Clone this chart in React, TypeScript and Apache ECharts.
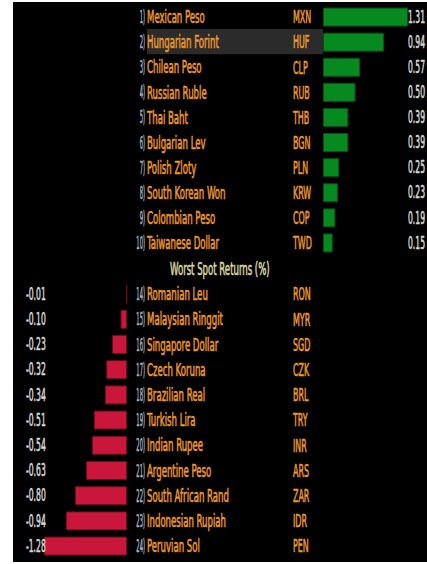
import React, { useEffect, useRef } from "react";
import * as echarts from "echarts";

// ---- data ----
const topRanks = ["1)", "2)", "3)", "4)", "5)", "6)", "7)", "8)", "9)", "10)"];
const topNames = [
  "Mexican Peso",
  "Hungarian Forint",
  "Chilean Peso",
  "Russian Ruble",
  "Thai Baht",
  "Bulgarian Lev",
  "Polish Zloty",
  "South Korean Won",
  "Colombian Peso",
  "Taiwanese Dollar",
];
const topCodes = ["MXN", "HUF", "CLP", "RUB", "THB", "BGN", "PLN", "KRW", "COP", "TWD"];
const topValues = [1.31, 0.94, 0.57, 0.5, 0.39, 0.39, 0.25, 0.23, 0.19, 0.15];
const highlightedRow = 1;

const sectionTitle = "Worst Spot Returns (%)";

const bottomRanks = ["14)", "15)", "16)", "17)", "18)", "19)", "20)", "21)", "22)", "23)", "24)"];
const bottomNames = [
  "Romanian Leu",
  "Malaysian Ringgit",
  "Singapore Dollar",
  "Czech Koruna",
  "Brazilian Real",
  "Turkish Lira",
  "Indian Rupee",
  "Argentine Peso",
  "South African Rand",
  "Indonesian Rupiah",
  "Peruvian Sol",
];
const bottomCodes = ["RON", "MYR", "SGD", "CZK", "BRL", "TRY", "INR", "ARS", "ZAR", "IDR", "PEN"];
const bottomValues = [-0.01, -0.1, -0.23, -0.32, -0.34, -0.51, -0.54, -0.63, -0.8, -0.94, -1.28];

// ---- style ----
const FONT_FAMILY = '"DejaVu Sans Condensed","Liberation Sans",sans-serif';
const FONT_SIZE = 17;
const NAME_SX = 0.56;
const CODE_SX = 0.52;
const VALUE_SX = 0.5;
const RANK_SX = 0.34;
const RANK_COLOR = "#a9b0bb";
const NAME_COLOR = "#ec9a2c";
const VALUE_COLOR = "#d6d6d6";
const TITLE_COLOR = "#ddd6a2";

function txt(text: string, x: number, y: number, fill: string, align: string, sx: number) {
  return {
    type: "text",
    x,
    y,
    scaleX: sx,
    style: {
      text,
      fill,
      stroke: fill,
      lineWidth: 0.6,
      fontFamily: FONT_FAMILY,
      fontSize: FONT_SIZE,
      align,
      verticalAlign: "middle",
    },
  };
}

export default function App() {
  const ref = useRef<HTMLDivElement>(null);

  useEffect(() => {
    if (!ref.current) return;
    const chart = echarts.init(ref.current, undefined, { renderer: "svg" });

    const option: any = {
      animation: false,
      backgroundColor: "#ffffff",
      graphic: [
        {
          type: "rect",
          z: -10,
          shape: { x: 13, y: 2, width: 414, height: 560 },
          style: { fill: "#000000" },
        },
        {
          type: "text",
          x: 170,
          y: 269,
          scaleX: NAME_SX,
          z: 5,
          style: {
            text: sectionTitle,
            fill: TITLE_COLOR,
            stroke: TITLE_COLOR,
            lineWidth: 0.6,
            fontFamily: FONT_FAMILY,
            fontSize: FONT_SIZE,
            align: "left",
            verticalAlign: "middle",
          },
        },
      ],
      grid: [
        { left: 323, top: 4.5, width: 97.5, height: 251 },
        { left: 29.5, top: 281.5, width: 97.5, height: 277.2 },
      ],
      xAxis: [
        { type: "value", gridIndex: 0, min: 0, max: 1.5, show: false },
        { type: "value", gridIndex: 1, min: -1.5, max: 0, show: false },
      ],
      yAxis: [
        { type: "category", gridIndex: 0, data: topCodes, inverse: true, show: false },
        { type: "category", gridIndex: 1, data: bottomCodes, inverse: true, show: false },
      ],
      series: [
        {
          type: "bar",
          xAxisIndex: 0,
          yAxisIndex: 0,
          data: topValues,
          barWidth: 19,
          itemStyle: { color: "#06891f", borderColor: "#0a4f14", borderWidth: 1 },
          silent: true,
        },
        {
          type: "bar",
          xAxisIndex: 1,
          yAxisIndex: 1,
          data: bottomValues,
          barWidth: 19,
          itemStyle: { color: "#c8173b", borderColor: "#6e0c1c", borderWidth: 1 },
          silent: true,
        },
        {
          type: "custom",
          xAxisIndex: 0,
          yAxisIndex: 0,
          clip: false,
          silent: true,
          z: 3,
          data: topCodes.map((_, i) => [0, i]),
          renderItem: (params: any, api: any) => {
            const i = api.value(1);
            const y = api.coord([0, i])[1];
            const band = api.size([0, 1])[1];
            const children: any[] = [];
            if (i === highlightedRow) {
              children.push({
                type: "rect",
                shape: { x: 147, y: y - band / 2 - 0.5, width: 176, height: band },
                style: { fill: "#2b2b2b" },
              });
            }
            children.push(txt(topRanks[i], 145, y, RANK_COLOR, "right", RANK_SX));
            children.push(txt(topNames[i], 147, y, NAME_COLOR, "left", NAME_SX));
            children.push(txt(topCodes[i], 293, y, NAME_COLOR, "left", CODE_SX));
            children.push(txt(topValues[i].toFixed(2), 425, y, VALUE_COLOR, "right", VALUE_SX));
            return { type: "group", children };
          },
        },
        {
          type: "custom",
          xAxisIndex: 1,
          yAxisIndex: 1,
          clip: false,
          silent: true,
          z: 3,
          data: bottomCodes.map((_, i) => [0, i]),
          renderItem: (params: any, api: any) => {
            const i = api.value(1);
            const y = api.coord([0, i])[1];
            const children: any[] = [];
            children.push(txt(bottomValues[i].toFixed(2), 26, y, VALUE_COLOR, "left", VALUE_SX));
            children.push(txt(bottomRanks[i], 145, y, RANK_COLOR, "right", RANK_SX));
            children.push(txt(bottomNames[i], 147, y, NAME_COLOR, "left", NAME_SX));
            children.push(txt(bottomCodes[i], 293, y, NAME_COLOR, "left", CODE_SX));
            return { type: "group", children };
          },
        },
      ],
    };

    chart.setOption(option);
    return () => chart.dispose();
  }, []);

  return (
    <div
      ref={ref}
      style={{ position: "fixed", left: 0, top: 0, width: 427, height: 564, background: "#fff" }}
    />
  );
}
